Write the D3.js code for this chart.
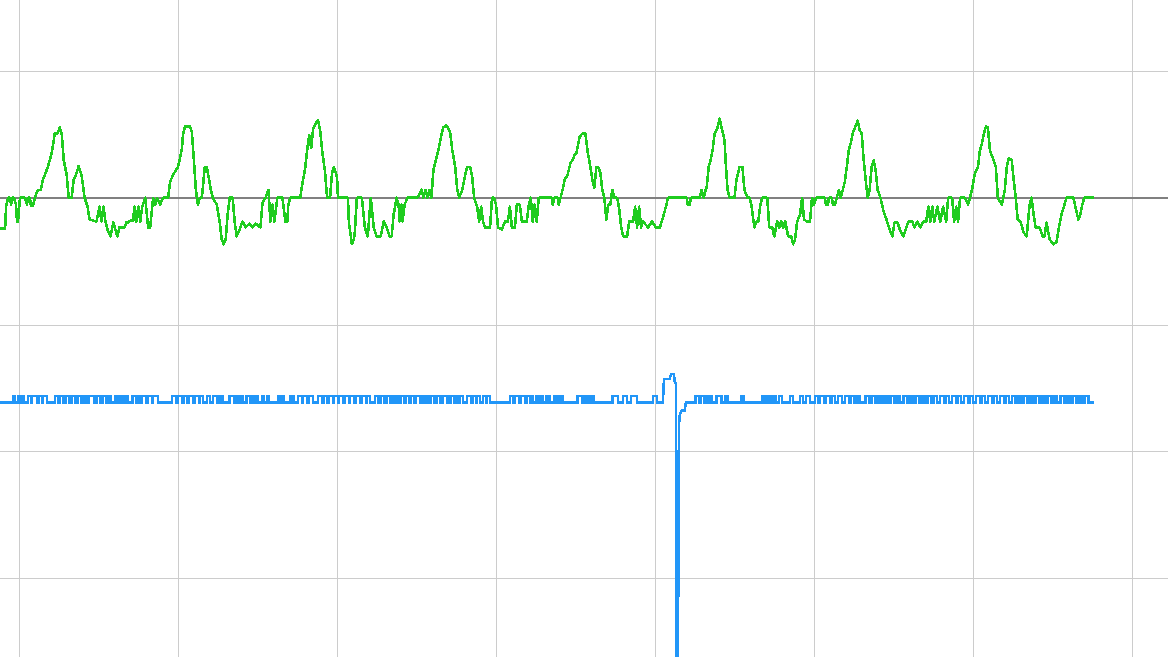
<!DOCTYPE html>
<html>
<head>
<meta charset="utf-8">
<script src="https://cdn.jsdelivr.net/npm/d3@7/dist/d3.min.js"></script>
<style>
  html, body { margin: 0; padding: 0; background: #ffffff; overflow: hidden; }
  svg { display: block; }
</style>
</head>
<body>
<div id="chart"></div>
<script>
// sample index (160 samples per grid column), ADC counts (128 counts per grid row)
const X_TICKS = [0, 160, 320, 480, 640, 800, 960, 1120];
const Y_TICKS = [128, -128, -256, -384];
const ZERO_LEVEL = 0;
const TRACE_START = -19;
const TRACE_END = 1082;

// green trace, [sample, counts]
const ecgTrace = [
  [-19,-31],[-14,-31],[-13,-9],[-11,0],[-9,0],[-8,-7],[-7,0],[-5,0],[-3,-7],[-2,-24],[-1,-24],
  [1,0],[6,0],[8,-7],[9,0],[11,0],[12,-8],[14,-8],[16,0],[19,8],[22,8],[24,18],[26,23],[29,31],
  [31,38],[33,46],[35,58],[36,65],[39,65],[41,71],[43,65],[45,38],[48,23],[50,0],[53,0],[55,18],
  [58,25],[60,32],[63,23],[66,0],[69,-9],[71,-22],[78,-24],[81,-9],[83,-24],[85,-9],[87,-24],
  [89,-32],[92,-39],[95,-25],[97,-32],[99,-39],[101,-30],[106,-30],[108,-25],[110,-25],[112,-23],
  [115,-23],[116,-9],[118,-24],[120,-9],[122,-24],[124,-9],[127,0],[130,-30],[132,-30],[135,0],
  [137,-7],[139,0],[142,-7],[145,0],[150,0],[152,16],[155,23],[158,28],[160,31],[162,40],[164,50],
  [165,63],[167,72],[172,72],[174,66],[176,38],[178,8],[180,-7],[182,0],[184,0],[187,31],[189,31],
  [191,20],[193,8],[195,0],[199,-7],[202,-25],[204,-42],[206,-47],[208,-42],[210,-17],[212,0],
  [215,0],[217,-24],[219,-39],[222,-32],[225,-24],[228,-30],[232,-26],[235,-30],[238,-26],[243,-30],
  [245,-5],[248,0],[251,8],[253,-24],[255,-7],[257,-24],[260,0],[265,0],[266,-7],[268,-24],[270,-24],
  [271,-7],[273,0],[283,0],[285,13],[288,30],[290,48],[292,63],[294,50],[296,70],[299,76],[301,78],
  [303,68],[305,48],[308,26],[310,0],[313,0],[315,25],[317,31],[320,21],[321,0],[331,0],[332,-25],
  [335,-47],[337,-42],[338,-34],[340,0],[345,0],[348,-30],[351,-39],[354,0],[357,-30],[360,-39],
  [364,-39],[367,-24],[370,-30],[373,-39],[375,-39],[377,-17],[380,0],[382,-7],[383,-24],[385,-7],
  [386,-24],[388,-7],[391,0],[401,0],[405,8],[407,0],[409,8],[411,0],[413,8],[415,0],[417,28],
  [420,40],[422,48],[425,63],[427,71],[430,73],[432,70],[434,65],[436,48],[439,31],[441,8],[443,0],
  [446,8],[449,23],[451,31],[454,31],[456,21],[458,0],[461,-9],[463,-24],[465,-9],[467,-24],[469,-30],
  [474,-30],[476,0],[478,0],[480,-7],[482,-30],[486,-32],[489,-24],[492,-24],[494,-9],[496,-30],
  [499,-30],[501,-7],[504,-7],[506,-24],[511,-24],[513,-7],[515,0],[517,-24],[519,-7],[521,-24],
  [523,0],[536,0],[537,-7],[539,0],[542,0],[543,-7],[545,0],[547,8],[549,18],[552,23],[555,35],
  [557,38],[559,43],[561,45],[564,61],[567,65],[570,65],[572,48],[575,31],[577,18],[579,10],[581,31],
  [583,31],[585,25],[587,8],[589,0],[591,-22],[593,-7],[595,-7],[597,8],[599,0],[602,0],[604,-12],
  [606,-30],[608,-39],[612,-39],[614,-24],[618,-24],[620,-9],[622,-30],[624,-9],[626,-30],[628,-24],
  [633,-30],[637,-24],[641,-30],[645,-30],[648,-20],[651,-9],[653,0],[672,0],[673,-7],[675,-7],
  [676,0],[685,0],[687,8],[689,0],[691,8],[692,10],[694,31],[696,38],[698,48],[700,65],[703,71],
  [705,80],[707,71],[710,58],[711,38],[713,8],[715,0],[720,0],[722,18],[725,31],[728,31],[730,8],
  [733,0],[735,0],[737,-7],[740,-30],[742,-24],[744,-24],[746,-7],[748,0],[753,0],[755,-30],
  [758,-30],[760,-39],[763,-24],[765,-30],[767,-24],[769,-30],[771,-24],[774,-39],[777,-39],
  [779,-47],[781,-42],[783,-24],[786,-17],[788,0],[790,-22],[793,-24],[796,-24],[798,0],[800,-7],
  [802,0],[811,0],[812,-7],[814,-7],[815,0],[818,0],[819,-7],[821,-7],[823,0],[825,8],[827,0],
  [829,8],[831,16],[833,31],[835,48],[837,55],[839,65],[842,73],[844,78],[846,68],[848,65],[850,38],
  [852,18],[854,0],[856,8],[858,31],[860,38],[862,28],[864,8],[867,0],[870,-14],[873,-22],[876,-32],
  [879,-39],[881,-25],[884,-25],[887,-34],[890,-39],[893,-30],[895,-24],[899,-24],[901,-30],[904,-24],
  [907,-30],[910,-24],[913,-24],[915,-9],[917,-24],[919,-9],[921,-24],[924,-9],[927,-24],[930,-9],
  [933,-24],[935,0],[939,0],[941,-24],[943,-9],[945,-24],[947,0],[952,0],[955,-7],[957,0],[959,8],
  [962,25],[965,31],[967,48],[969,55],[971,65],[973,72],[975,71],[977,48],[980,40],[983,31],[985,0],
  [989,-7],[992,8],[994,31],[996,40],[999,38],[1001,18],[1003,0],[1005,-22],[1008,-25],[1011,-35],
  [1014,-39],[1017,-7],[1019,0],[1021,-17],[1023,-30],[1027,-30],[1030,-39],[1032,-39],[1034,-25],
  [1037,-42],[1041,-47],[1044,-45],[1047,-27],[1049,-17],[1052,-7],[1054,0],[1061,0],[1063,-9],
  [1066,-22],[1068,-17],[1070,-7],[1072,0],[1082,0]
];

// blue trace: resting level, short pulse level, pulse spans [start, end]
const PULSE_BASE = -207;
const PULSE_TOP = -200;
const bluePulses = [
  [-6,-4],[-1,1],[3,5],[9,12],[13,18],[20,23],[24,28],[36,39],[41,45],[47,51],[53,57],[59,63],
  [65,68],[70,76],[78,82],[84,88],[90,92],[97,100],[102,105],[107,109],[114,118],[119,122],[124,128],
  [130,134],[135,140],[154,158],[160,164],[166,169],[171,175],[177,181],[182,185],[189,192],[195,199],
  [202,205],[212,217],[218,221],[222,225],[229,233],[234,237],[238,240],[245,246],[250,251],[261,264],
  [265,266],[273,276],[281,285],[286,290],[292,296],[301,305],[307,310],[312,316],[317,321],[322,326],
  [328,332],[333,337],[339,343],[345,349],[350,353],[358,362],[364,368],[370,374],[376,379],[380,383],
  [384,388],[389,393],[394,398],[399,404],[405,408],[409,411],[414,418],[420,424],[426,431],[434,438],
  [440,443],[444,447],[451,455],[457,460],[461,464],[467,470],[471,474],[494,497],[499,503],[505,509],
  [511,514],[515,517],[521,524],[525,527],[531,534],[539,542],[544,547],[562,567],[570,573],[575,578],
  [597,603],[608,612],[616,622],[638,642],
  [681,685],[686,690],[691,694],[695,697],[702,707],[711,713],[727,729],[748,751],[753,756],[759,762],
  [765,768],[776,779],[786,789],[792,796],[801,804],[806,810],[812,816],[818,821],[824,828],[831,835],
  [837,841],[843,846],[852,856],[858,862],[865,868],[871,874],[877,881],[883,886],[890,894],[896,899],
  [902,906],[908,911],[914,918],[921,924],[927,931],[933,936],[939,943],[945,948],[951,955],[957,960],
  [963,967],[969,972],[975,979],[981,984],[987,991],[993,996],[999,1003],[1005,1008],[1011,1015],
  [1017,1020],[1023,1027],[1029,1032],[1035,1039],[1041,1044],[1048,1052],[1054,1057],[1060,1064],
  [1066,1069],[1072,1076]
];

// the one big transient in the blue trace
const blueSpike = [
  [648,-207],[649,-183],[655,-183],[656,-178],[659,-178],[660,-187],[661,-187],[662,-530],
  [663,-530],[664,-231],[665,-219],[667,-215],[670,-215],[671,-207]
];

function buildPulseTrace() {
  const pts = [[TRACE_START, PULSE_BASE]];
  let spikeDone = false;
  bluePulses.forEach(([a, b]) => {
    if (!spikeDone && a > blueSpike[0][0]) {
      blueSpike.forEach((p) => pts.push(p));
      spikeDone = true;
    }
    pts.push([a, PULSE_BASE], [a, PULSE_TOP], [b, PULSE_TOP], [b, PULSE_BASE]);
  });
  pts.push([TRACE_END, PULSE_BASE]);
  return pts;
}

function drawChart() {
  const width = 1168;
  const height = 657;

  const svg = d3
    .select("#chart")
    .append("svg")
    .attr("width", width)
    .attr("height", height);

  const xScale = d3.scaleLinear().domain([0, 160]).range([19, 178]);
  const yScale = d3.scaleLinear().domain([128, -384]).range([71, 578]);

  // grid
  const grid = svg.append("g").attr("shape-rendering", "crispEdges");

  grid
    .selectAll(".vgrid")
    .data(X_TICKS)
    .enter()
    .append("line")
    .attr("class", "vgrid")
    .attr("x1", (d) => Math.round(xScale(d)) + 0.5)
    .attr("x2", (d) => Math.round(xScale(d)) + 0.5)
    .attr("y1", 0)
    .attr("y2", height)
    .attr("stroke", "#cccccc")
    .attr("stroke-width", 1);

  grid
    .selectAll(".hgrid")
    .data(Y_TICKS)
    .enter()
    .append("line")
    .attr("class", "hgrid")
    .attr("x1", 0)
    .attr("x2", width)
    .attr("y1", (d) => Math.round(yScale(d)) + 0.5)
    .attr("y2", (d) => Math.round(yScale(d)) + 0.5)
    .attr("stroke", "#cccccc")
    .attr("stroke-width", 1);

  // zero line
  svg
    .append("line")
    .attr("x1", 0)
    .attr("x2", width)
    .attr("y1", yScale(ZERO_LEVEL))
    .attr("y2", yScale(ZERO_LEVEL))
    .attr("stroke", "#808080")
    .attr("stroke-width", 2)
    .attr("shape-rendering", "crispEdges");

  const line = d3
    .line()
    .x((d) => xScale(d[0]))
    .y((d) => yScale(d[1]));

  svg
    .append("path")
    .datum(ecgTrace)
    .attr("d", line)
    .attr("fill", "none")
    .attr("stroke", "#1fcc1f")
    .attr("stroke-width", 2.6)
    .attr("stroke-linejoin", "round")
    .attr("shape-rendering", "crispEdges");

  svg
    .append("path")
    .datum(buildPulseTrace())
    .attr("d", line)
    .attr("fill", "none")
    .attr("stroke", "#2196f8")
    .attr("stroke-width", 2.5)
    .attr("shape-rendering", "crispEdges");
}

drawChart();
</script>
</body>
</html>
